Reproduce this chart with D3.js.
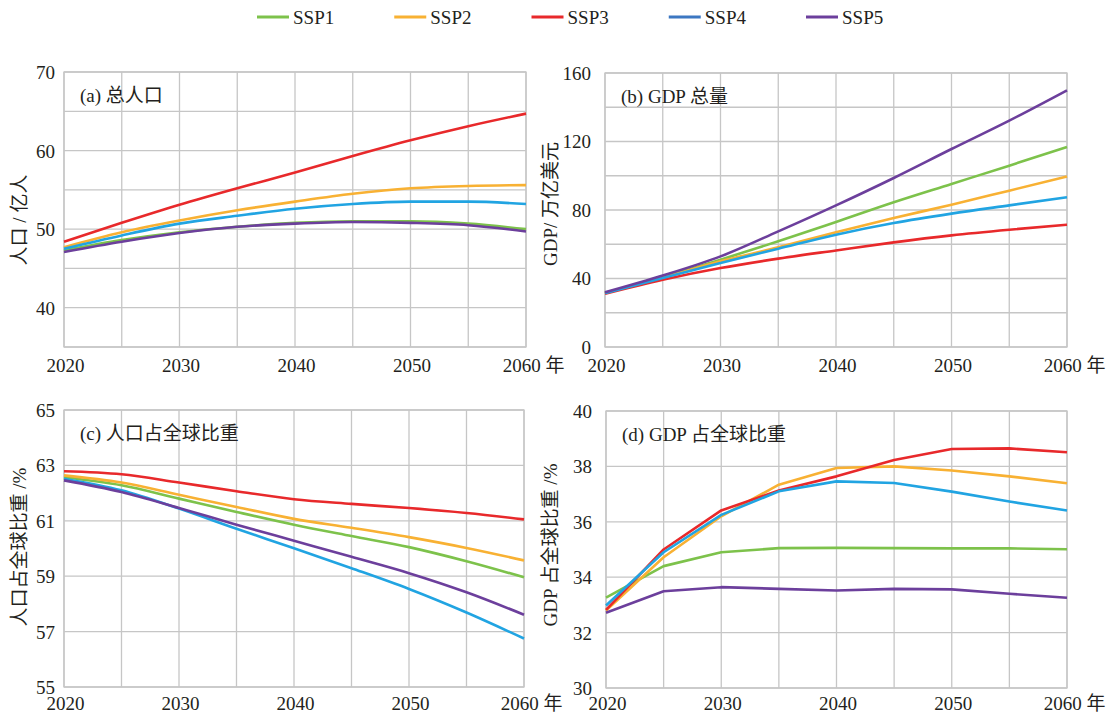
<!DOCTYPE html>
<html lang="en">

<head>
    <meta charset="UTF-8">
    <script src="https://d3js.org/d3.v7.min.js"></script>
    <title>SSP 情景</title>
    <style>
        body { margin: 0; background: #fff; }
        svg, svg text { font-family: "Liberation Serif", "Times New Roman", "DejaVu Serif", "Noto Sans CJK SC", serif; }
        svg text { fill: #231f20; }
        .grid line { stroke: #c6c6c6; stroke-width: 1.3; }
        .frame { fill: none; stroke: #c6c6c6; stroke-width: 1.3; }
        .axis path, .axis line { display: none; }
    </style>
</head>

<body>
    <div id="chart"></div>
    <script>
        // Data
        const scenarios = ["SSP1", "SSP2", "SSP3", "SSP4", "SSP5"];
        const years = [2020, 2025, 2030, 2035, 2040, 2045, 2050, 2055, 2060];
        const yearLabels = [2020, 2030, 2040, 2050, 2060];

        // (a) 总人口, 亿人
        const popSSP1 = [47.3, 48.6, 49.6, 50.3, 50.8, 51.0, 51.0, 50.7, 50.0];
        const popSSP2 = [47.7, 49.6, 51.1, 52.4, 53.5, 54.5, 55.2, 55.5, 55.6];
        const popSSP3 = [48.4, 50.8, 53.1, 55.2, 57.2, 59.3, 61.3, 63.1, 64.7];
        const popSSP4 = [47.5, 49.2, 50.7, 51.7, 52.6, 53.2, 53.5, 53.5, 53.2];
        const popSSP5 = [47.1, 48.4, 49.5, 50.3, 50.7, 50.9, 50.8, 50.5, 49.7];

        // (b) GDP 总量, 万亿美元
        const gdpSSP1 = [31.5, 40.9, 51.0, 61.7, 73.0, 84.5, 95.2, 105.9, 116.8];
        const gdpSSP2 = [31.5, 40.5, 50.0, 58.2, 67.0, 75.3, 83.1, 91.3, 99.5];
        const gdpSSP3 = [31.1, 39.3, 46.1, 51.6, 56.4, 61.1, 65.2, 68.5, 71.4];
        const gdpSSP4 = [31.5, 40.3, 49.1, 57.4, 65.6, 72.4, 77.9, 82.7, 87.4];
        const gdpSSP5 = [31.9, 41.7, 52.9, 67.5, 82.7, 98.7, 115.6, 132.2, 149.9];

        // (c) 人口占全球比重, %
        const popShareSSP1 = [62.57, 62.28, 61.80, 61.32, 60.86, 60.45, 60.05, 59.54, 58.96];
        const popShareSSP2 = [62.64, 62.38, 61.94, 61.50, 61.07, 60.75, 60.41, 60.02, 59.57];
        const popShareSSP3 = [62.79, 62.68, 62.38, 62.07, 61.78, 61.61, 61.46, 61.28, 61.05];
        const popShareSSP4 = [62.52, 62.10, 61.44, 60.71, 60.01, 59.29, 58.54, 57.69, 56.75];
        const popShareSSP5 = [62.46, 62.04, 61.46, 60.86, 60.28, 59.70, 59.11, 58.42, 57.61];

        // (d) GDP 占全球比重, %
        const gdpShareSSP1 = [33.26, 34.40, 34.90, 35.05, 35.06, 35.05, 35.04, 35.04, 35.01];
        const gdpShareSSP2 = [32.80, 34.72, 36.20, 37.34, 37.94, 38.00, 37.85, 37.64, 37.39];
        const gdpShareSSP3 = [32.82, 35.00, 36.41, 37.13, 37.64, 38.23, 38.63, 38.65, 38.51];
        const gdpShareSSP4 = [32.98, 34.90, 36.25, 37.10, 37.46, 37.40, 37.09, 36.73, 36.41];
        const gdpShareSSP5 = [32.72, 33.49, 33.64, 33.58, 33.52, 33.58, 33.56, 33.40, 33.26];

        // Axis ticks
        const yTicksA = [40, 50, 60, 70];
        const yGridA = [35, 40, 45, 50, 55, 60, 65, 70];
        const yTicksB = [0, 40, 80, 120, 160];
        const yGridB = [0, 20, 40, 60, 80, 100, 120, 140, 160];
        const yTicksC = [55, 57, 59, 61, 63, 65];
        const yTicksD = [30, 32, 34, 36, 38, 40];

        const lineColors = ["#7dc24b", "#f8b133", "#e8292b", "#21a4e2", "#6c3f9c"];
        const legendColors = ["#7dc24b", "#f8b133", "#e8292b", "#3c77c2", "#6c3f9c"];

        const fontStack = "'Liberation Serif', 'Times New Roman', 'DejaVu Serif', 'Noto Sans CJK SC', serif";

        const width = 1113;
        const height = 715;

        const svg = d3.select("#chart")
            .append("svg")
            .attr("width", width)
            .attr("height", height)
            .attr("font-family", fontStack);

        // Legend
        const legendX = d3.scalePoint().domain(scenarios).range([257, 806]);
        const legend = svg.append("g").attr("class", "legend");
        scenarios.forEach((s, i) => {
            legend.append("line")
                .attr("x1", legendX(s)).attr("x2", legendX(s) + 32)
                .attr("y1", 17).attr("y2", 17)
                .attr("stroke", legendColors[i])
                .attr("stroke-width", 3);
            legend.append("text")
                .attr("x", legendX(s) + 36)
                .attr("y", 23.5)
                .attr("font-size", 19)
                .text(s);
        });

        const panels = [
            {
                title: "(a) 总人口", ylabel: "人口 / 亿人",
                series: [popSSP1, popSSP2, popSSP3, popSSP4, popSSP5],
                domain: [35, 70], ticks: yTicksA, grid: yGridA,
                box: [64, 526, 72, 347], labelPos: [19, 220], curve: d3.curveMonotoneX, tickPad: 9, xPad: 12
            },
            {
                title: "(b) GDP 总量", ylabel: "GDP/ 万亿美元",
                series: [gdpSSP1, gdpSSP2, gdpSSP3, gdpSSP4, gdpSSP5],
                domain: [0, 160], ticks: yTicksB, grid: yGridB,
                box: [605, 1067, 73, 347], labelPos: [550, 204], curve: d3.curveMonotoneX, tickPad: 14, xPad: 12
            },
            {
                title: "(c) 人口占全球比重", ylabel: "人口占全球比重 /%",
                series: [popShareSSP1, popShareSSP2, popShareSSP3, popShareSSP4, popShareSSP5],
                domain: [55, 65], ticks: yTicksC, grid: yTicksC,
                box: [64, 524, 410, 687], labelPos: [19, 547], curve: d3.curveMonotoneX, tickPad: 9, xPad: 10
            },
            {
                title: "(d) GDP 占全球比重", ylabel: "GDP 占全球比重 /%",
                series: [gdpShareSSP1, gdpShareSSP2, gdpShareSSP3, gdpShareSSP4, gdpShareSSP5],
                domain: [30, 40], ticks: yTicksD, grid: yTicksD,
                box: [606, 1067, 411, 688], labelPos: [550, 545], curve: d3.curveLinear, tickPad: 14, xPad: 9
            }
        ];

        panels.forEach(p => {
            const [x0, x1, y0, y1] = p.box;
            const x = d3.scaleLinear().domain([2020, 2060]).range([x0, x1]);
            const y = d3.scaleLinear().domain(p.domain).range([y1, y0]);
            const g = svg.append("g");

            // Grid
            const grid = g.append("g").attr("class", "grid");
            grid.selectAll(".v").data(years).join("line")
                .attr("x1", d => x(d)).attr("x2", d => x(d))
                .attr("y1", y0).attr("y2", y1);
            grid.selectAll(".h").data(p.grid).join("line")
                .attr("x1", x0).attr("x2", x1)
                .attr("y1", d => y(d)).attr("y2", d => y(d));
            g.append("rect").attr("class", "frame")
                .attr("x", x0).attr("y", y0)
                .attr("width", x1 - x0).attr("height", y1 - y0);

            // Lines
            const line = d3.line()
                .x((d, i) => x(years[i]))
                .y(d => y(d))
                .curve(p.curve);
            p.series.forEach((s, i) => {
                g.append("path")
                    .datum(s)
                    .attr("d", line)
                    .attr("fill", "none")
                    .attr("stroke", lineColors[i])
                    .attr("stroke-width", 2.6)
                    .attr("stroke-linejoin", "round");
            });

            // Axes
            const yAxis = g.append("g")
                .attr("class", "axis")
                .attr("transform", `translate(${x0},0)`)
                .call(d3.axisLeft(y).tickValues(p.ticks).tickSize(0).tickPadding(p.tickPad));
            yAxis.attr("font-family", fontStack);
            yAxis.selectAll("text").attr("font-size", 19).attr("dy", "0.34em");

            const xAxis = g.append("g")
                .attr("class", "axis")
                .attr("transform", `translate(0,${y1})`)
                .call(d3.axisBottom(x).tickValues(yearLabels).tickSize(0).tickPadding(p.xPad)
                    .tickFormat(d => d === 2060 ? "2060 年" : d3.format("d")(d)));
            xAxis.attr("font-family", fontStack);
            xAxis.selectAll("text").attr("font-size", 19)
                .attr("dx", d => d === 2060 ? 7 : 1);

            // Title
            g.append("text")
                .attr("x", x0 + 16)
                .attr("y", y0 + 30)
                .attr("font-size", 19)
                .text(p.title);

            // Y label
            g.append("text")
                .attr("transform", `translate(${p.labelPos[0]},${p.labelPos[1]}) rotate(-90)`)
                .attr("text-anchor", "middle")
                .attr("dy", "0.35em")
                .attr("font-size", 19)
                .text(p.ylabel);
        });
    </script>
</body>

</html>
